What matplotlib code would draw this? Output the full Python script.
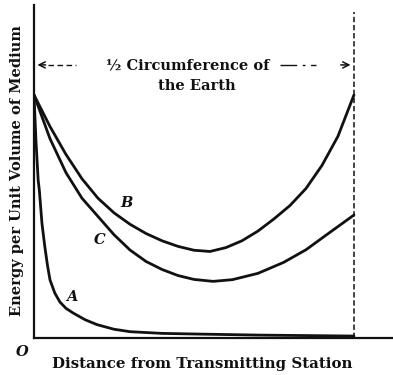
import matplotlib.pyplot as plt

# distance as a fraction of half the earth's circumference, energy relative to the value at the station
dist_b = [0.0, 0.05, 0.1, 0.15, 0.2, 0.25, 0.3, 0.35, 0.4, 0.45, 0.5, 0.55, 0.6,
          0.65, 0.7, 0.75, 0.8, 0.85, 0.9, 0.95, 1.0]
energy_b = [1.0, 0.87, 0.755, 0.655, 0.575, 0.515, 0.468, 0.43, 0.40, 0.377, 0.361, 0.356, 0.372,
            0.40, 0.44, 0.49, 0.545, 0.615, 0.71, 0.83, 1.0]

dist_c = [0.0, 0.05, 0.1, 0.15, 0.2, 0.25, 0.3, 0.35, 0.4, 0.45, 0.5, 0.56, 0.62,
          0.7, 0.78, 0.85, 0.92, 1.0]
energy_c = [1.0, 0.82, 0.68, 0.575, 0.50, 0.425, 0.362, 0.315, 0.282, 0.257, 0.241, 0.233, 0.240,
            0.266, 0.311, 0.363, 0.43, 0.506]

dist_a = [0.0, 0.006, 0.013, 0.0166, 0.025, 0.034, 0.042, 0.05, 0.065, 0.081, 0.1, 0.122,
          0.16, 0.197, 0.25, 0.3, 0.4, 0.52, 0.7, 1.0]
energy_a = [1.0, 0.815, 0.65, 0.609, 0.47, 0.374, 0.30, 0.239, 0.185, 0.148, 0.122, 0.103,
            0.075, 0.055, 0.036, 0.026, 0.019, 0.016, 0.012, 0.008]

curve_labels = ['A', 'B', 'C']
label_pos = [(0.119, 0.169), (0.29, 0.556), (0.206, 0.403)]

fig = plt.figure(figsize=(3.93, 3.75), dpi=100)
ax = fig.add_axes([34 / 393, 37 / 375, 359 / 393, 333 / 375])
ax.set_xlim(0, 1.122)
ax.set_ylim(0, 1.37)

ink = '#111111'
for xs, ys in [(dist_a, energy_a), (dist_b, energy_b), (dist_c, energy_c)]:
    ax.plot(xs, ys, color=ink, lw=2.0, solid_capstyle='round', solid_joinstyle='round')

# antipode boundary
ax.plot([1.0, 1.0], [0, 1.342], color=ink, lw=1.1, ls=(0, (3.5, 1.8)))

for side in ['top', 'right']:
    ax.spines[side].set_visible(False)
for side in ['left', 'bottom']:
    ax.spines[side].set_linewidth(1.6)
    ax.spines[side].set_color(ink)
ax.set_xticks([])
ax.set_yticks([])

font = dict(family='DejaVu Serif', weight='bold', color=ink)

# span arrows across the top
y_arrow = (338 - 65) / 243
ax.annotate('', xy=(0.002, y_arrow), xytext=(0.045, y_arrow),
            arrowprops=dict(arrowstyle='->', color=ink, lw=1.1, mutation_scale=11))
ax.plot([0.045, 0.13], [y_arrow, y_arrow], color=ink, lw=1.0, ls=(0, (4, 2.5)))
ax.plot([0.77, 0.88], [y_arrow, y_arrow], color=ink, lw=1.0, ls=(0, (12, 4, 2, 4)))
ax.annotate('', xy=(0.998, y_arrow), xytext=(0.95, y_arrow),
            arrowprops=dict(arrowstyle='->', color=ink, lw=1.1, mutation_scale=11))
ax.text(0.48, y_arrow, '½ Circumference of', ha='center', va='center', fontsize=10.5, **font)
ax.text(0.51, (338 - 86) / 243, 'the Earth', ha='center', va='center', fontsize=10.5, **font)

label_font = dict(family='DejaVu Serif', style='italic', weight='bold', color=ink, fontsize=10.5)
for name, (lx, ly) in zip(curve_labels, label_pos):
    ax.text(lx, ly, name, ha='center', va='center', **label_font)

fig.text(22 / 393, 1 - 352 / 375, 'O', ha='center', va='center', **label_font)
fig.text(202 / 393, 1 - 364 / 375, 'Distance from Transmitting Station',
         ha='center', va='center', fontsize=10.8, **font)
fig.text(17 / 393, 1 - 171 / 375, 'Energy per Unit Volume of Medium', rotation=90,
         ha='center', va='center', fontsize=10.5, **font)

fig.savefig('out.png', dpi=100)
